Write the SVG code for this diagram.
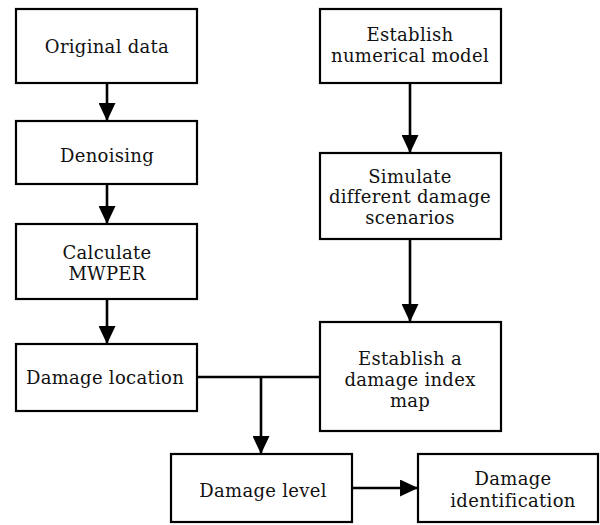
<svg xmlns="http://www.w3.org/2000/svg" width="600" height="525" viewBox="0 0 600 525">
<defs>
<marker id="ah" markerUnits="userSpaceOnUse" markerWidth="18" markerHeight="17" refX="18" refY="8.5" orient="auto">
<path d="M0,0 L18,8.5 L0,17 z" fill="#000"/>
</marker>
<style>
.box{fill:#fff;stroke:#000;stroke-width:2.2}
.t{font-family:'DejaVu Serif','Liberation Serif',serif;font-size:18px;fill:#111;text-anchor:middle;letter-spacing:0.3px}
.c{stroke:#000;stroke-width:2.6;fill:none}
.a{marker-end:url(#ah)}
</style>
</defs>
<rect width="600" height="525" fill="#fff"/>
<g id="connectors">
<line class="c a" x1="107" y1="83" x2="107" y2="121"/>
<line class="c a" x1="107" y1="184" x2="107" y2="224"/>
<line class="c a" x1="107" y1="299" x2="107" y2="344"/>
<line class="c a" x1="410" y1="83" x2="410" y2="153"/>
<line class="c a" x1="410" y1="239" x2="410" y2="322"/>
<line class="c" x1="197" y1="377" x2="320" y2="377"/>
<line class="c a" x1="261" y1="377" x2="261" y2="454"/>
<line class="c a" x1="352" y1="488" x2="418" y2="488"/>
</g>
<g id="original">
<rect class="box" x="16" y="9" width="181" height="74"/>
<text class="t" x="107" y="53">Original data</text>
</g>
<g id="denoising">
<rect class="box" x="16" y="121" width="181" height="63"/>
<text class="t" x="107" y="162">Denoising</text>
</g>
<g id="mwper">
<rect class="box" x="16" y="224" width="181" height="75"/>
<text class="t" x="107" y="259">Calculate</text>
<text class="t" x="107" y="280">MWPER</text>
</g>
<g id="location">
<rect class="box" x="16" y="344" width="181" height="67"/>
<text class="t" x="105" y="384">Damage location</text>
</g>
<g id="model">
<rect class="box" x="320" y="9" width="181" height="74"/>
<text class="t" x="410" y="41">Establish</text>
<text class="t" x="410" y="62">numerical model</text>
</g>
<g id="simulate">
<rect class="box" x="320" y="153" width="181" height="86"/>
<text class="t" x="410" y="183">Simulate</text>
<text class="t" x="410" y="203">different damage</text>
<text class="t" x="410" y="224">scenarios</text>
</g>
<g id="indexmap">
<rect class="box" x="320" y="322" width="181" height="109"/>
<text class="t" x="410" y="365">Establish a</text>
<text class="t" x="410" y="386">damage index</text>
<text class="t" x="410" y="407">map</text>
</g>
<g id="level">
<rect class="box" x="171" y="454" width="181" height="68"/>
<text class="t" x="263" y="497">Damage level</text>
</g>
<g id="identification">
<rect class="box" x="418" y="454" width="180" height="68"/>
<text class="t" x="513" y="485">Damage</text>
<text class="t" x="513" y="507">identification</text>
</g>
</svg>
